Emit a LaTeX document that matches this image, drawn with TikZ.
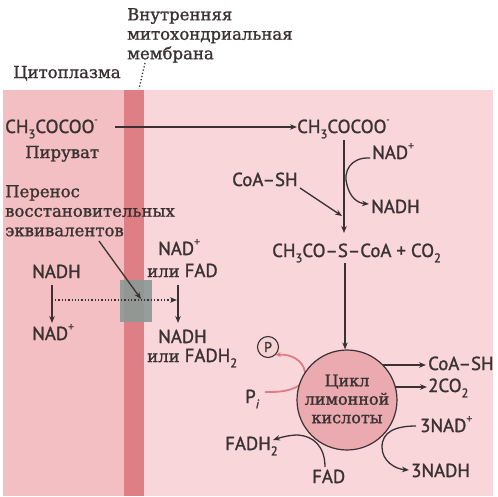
\documentclass[tikz,border=0pt]{standalone}
\usepackage{fontspec}
\setmainfont[FakeBold=1.3]{DejaVu Serif}
\newfontfamily\serf[FakeBold=1.3]{DejaVu Serif}
\newfontfamily\chemf[FakeBold=1.4]{PT Sans}
\usetikzlibrary{arrows.meta}
\definecolor{ink}{HTML}{3A3232}
\definecolor{leftbg}{HTML}{F3BFC2}
\definecolor{rightbg}{HTML}{F9D6D9}
\definecolor{membr}{HTML}{DD7F84}
\definecolor{cycfill}{HTML}{EAAAB0}
\definecolor{pfill}{HTML}{F6D2D5}
\definecolor{greybox}{HTML}{8A9A95}
\definecolor{pinkline}{HTML}{D86E7B}
\newcommand\sbs[1]{\raisebox{-0.28em}{\fontsize{12.5}{12.5}\selectfont #1}}
\newcommand\sps[1]{\raisebox{0.5em}{\fontsize{11.5}{11.5}\selectfont #1}}
\newcommand\minus{\raisebox{0.55em}{\fontsize{9}{9}\selectfont -}}
\begin{document}
\begin{tikzpicture}[x=1pt,y=-1pt,
  ser/.style={font=\serf\fontsize{16.5}{19.5}\selectfont, text=ink, inner sep=0pt},
  chem/.style={font=\chemf\fontsize{18.8}{20}\selectfont, text=ink, inner sep=0pt},
  arr/.style={draw=ink, line width=1.3pt, -{Stealth[length=7pt,width=5.5pt]}},
  dotarr/.style={draw=ink, line width=1.3pt, dotted, -{Stealth[length=7pt,width=5.5pt]}},
  pinkarr/.style={draw=pinkline, line width=1.8pt, opacity=0.85, -{Stealth[length=5pt,width=5pt]}}]
\useasboundingbox (0,0) rectangle (498,496);
% background
\fill[leftbg] (3,90) rectangle (124,496);
\fill[rightbg] (144,90) rectangle (493,496);
\fill[membr] (124,90) rectangle (144,496);
% titles
\node[ser, anchor=north west, align=left] (mem) at (127,8) {Внутренняя\\митохондриальная\\мембрана};
\node[ser, anchor=base west] (cyto) at (13,78) {Цитоплазма};
\coordinate (memtop) at (145,63);
\coordinate (membot) at (139,89);
\draw[ink, line width=1.3pt, dotted] (memtop) -- (membot);
% grey transporter
\node[fill=greybox, opacity=0.9, minimum width=32pt, minimum height=42pt, inner sep=0pt] (box) at (136,301) {};
% pyruvate left
\node[chem, anchor=base west] (pyrL) at (5,133) {CH\sbs{3}COCOO\minus};
\node[ser, anchor=base west] (pyrname) at (25,158) {Пируват};
\node[ser, anchor=north west, align=left] (transfer) at (5,185) {Перенос\\восстановительных\\эквивалентов};
% pyruvate right
\node[chem, anchor=base west] (pyrR) at (297,133) {CH\sbs{3}COCOO\minus};
\node[chem, anchor=base west] (nadp1) at (372,159) {NAD\sps{+}};
\node[chem, anchor=base west] (nadh1) at (371,213) {NADH};
\node[chem, anchor=base west] (coa1) at (232,186) {CoA–SH};
\node[chem, anchor=base west] (acoa) at (272,257) {CH\sbs{3}CO–S–CoA + CO\sbs{2}};
% left NADH shuttle
\node[chem, anchor=base west] (nadhL) at (32,278) {NADH};
\node[chem, anchor=base west] (nadL) at (32,340) {NAD\sps{+}};
\node[chem, anchor=base west] (nadR) at (158,255) {NAD\sps{+}};
\node[chem, anchor=base west] (fadR) at (147,277) {{\serf\fontsize{16.5}{18}\selectfont или} FAD};
\node[chem, anchor=base west] (nadhR) at (158,343) {NADH};
\node[chem, anchor=base west] (fadhR) at (147,362) {{\serf\fontsize{16.5}{18}\selectfont или} FADH\sbs{2}};
% Pi to P (drawn under the cycle)
\node[chem, anchor=base west] (pi) at (245,403) {P\sbs{\textit{i}}};
\node[circle, draw=ink, line width=1.1pt, fill=pfill, minimum size=21pt, inner sep=0pt, text=ink, font=\chemf\fontsize{14}{14}\selectfont] (P) at (268,347) {P};
\coordinate (pis) at (265,392);
\draw[pinkarr] (pis) .. controls (292,393) and (307,385) .. (305,372) .. controls (303,360) and (291,354) .. (P.south east);
% citric acid cycle
\node[circle, draw=ink, line width=1.2pt, fill=cycfill, minimum size=100pt, inner sep=0pt] (cyc) at (347,400) {};
\node[ser, align=center, font=\serf\fontsize{16}{18.5}\selectfont] (cyctext) at (347,399) {Цикл\\лимонной\\кислоты};
\node[chem, anchor=base west] (coa2) at (428,370) {CoA–SH};
\node[chem, anchor=base west] (co2) at (428,392) {2CO\sbs{2}};
\node[chem, anchor=base west] (nad3) at (420,432) {3NAD\sps{+}};
\node[chem, anchor=base west] (nadh3) at (411,477) {3NADH};
\node[chem, anchor=base west] (fad) at (312,483) {FAD};
\node[chem, anchor=base west] (fadh2) at (225,450) {FADH\sbs{2}};
% connectors
\coordinate (h1) at (115,127);
\draw[arr] (h1) -- (pyrR.west |- h1);
\coordinate (v1a) at (344,140);
\coordinate (v1b) at (344,233);
\draw[arr] (v1a) -- (v1b);
\coordinate (coastart) at (300,188);
\coordinate (coaend) at (342,216);
\draw[arr] (coastart) -- (coaend);
\coordinate (nadcs) at (370,158);
\coordinate (nadce) at (369,204);
\draw[arr] (nadcs) .. controls (350,157) and (343,172) .. (347,185) .. controls (350,197) and (357,203) .. (nadce);
\coordinate (v2a) at (345,263);
\draw[arr] (v2a) -- (cyc.north -| v2a);
\coordinate (c1a) at (383,365);
\coordinate (c1b) at (426,365);
\draw[arr] (c1a) -- (c1b);
\coordinate (c2a) at (395,387);
\coordinate (c2b) at (427,387);
\draw[arr] (c2a) -- (c2b);
% NAD cycle curve
\coordinate (n3s) at (416,426);
\coordinate (n3e) at (409,470);
\draw[arr] (n3s) .. controls (395,426) and (382,432) .. (382,447) .. controls (382,461) and (395,469) .. (n3e);
% FAD curve
\coordinate (fs) at (325,467);
\coordinate (fe) at (273,440);
\draw[arr] (fs) .. controls (325,446) and (313,436) .. (298,435) .. controls (290,435) and (282,437) .. (fe);
% left shuttle arrows
\coordinate (l1a) at (52,285);
\coordinate (l1b) at (52,323);
\draw[arr] (l1a) -- (l1b);
\coordinate (r1a) at (178,285);
\coordinate (r1b) at (178,323);
\draw[arr] (r1a) -- (r1b);
\coordinate (da) at (55,300);
\coordinate (db) at (177,300);
\draw[dotarr] (da) -- (db);
\coordinate (ta) at (99,241);
\draw[arr] (ta) -- (141,299);
\end{tikzpicture}
\end{document}
